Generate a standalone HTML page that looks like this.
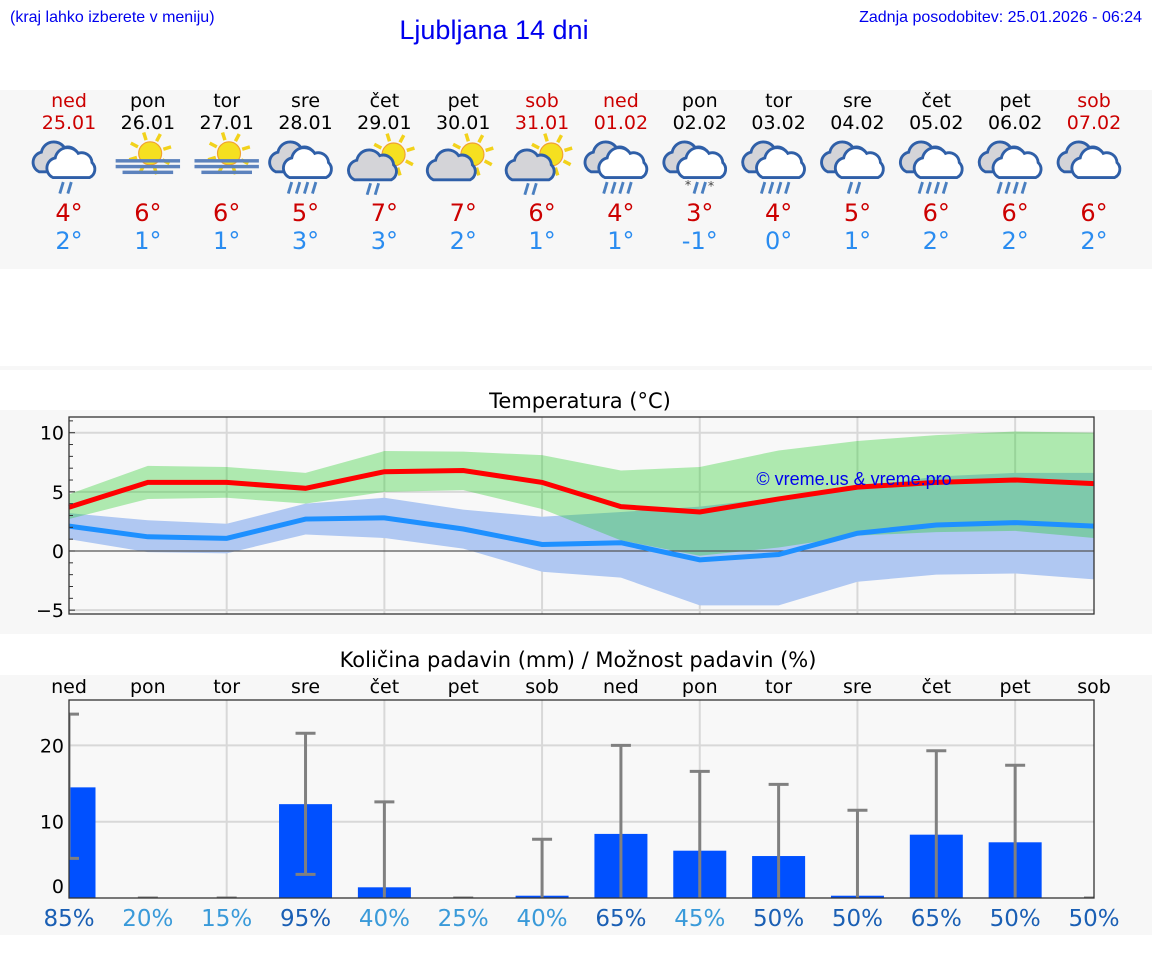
<!DOCTYPE html>
<html><head><meta charset="utf-8">
<style>
body{margin:0;width:1152px;height:975px;background:#fff;overflow:hidden;font-family:"DejaVu Sans","Liberation Sans",sans-serif;}
svg{position:absolute;left:0;top:0}
</style></head>
<body>
<svg id="s" width="1152" height="975" xmlns="http://www.w3.org/2000/svg">
<text x="10" y="22" font-family="Liberation Sans, sans-serif" font-size="16" fill="#0000ee">(kraj lahko izberete v meniju)</text>
<text x="494" y="39" text-anchor="middle" font-family="Liberation Sans, sans-serif" font-size="27" fill="#0000ee">Ljubljana 14 dni</text>
<text x="1142" y="22" text-anchor="end" font-family="Liberation Sans, sans-serif" font-size="16" fill="#0000ee">Zadnja posodobitev: 25.01.2026 - 06:24</text>
<rect x="0" y="90" width="1152" height="179" fill="#f7f7f7"/>
<rect x="0" y="366" width="1152" height="4" fill="#f7f7f7"/>
<rect x="0" y="410" width="1152" height="224" fill="#f7f7f7"/>
<rect x="0" y="675" width="1152" height="260" fill="#f7f7f7"/>
<text x="580" y="408" text-anchor="middle" font-size="21" fill="#000">Temperatura (°C)</text>
<text x="578" y="667" text-anchor="middle" font-size="21" fill="#000">Količina padavin (mm) / Možnost padavin (%)</text>
<g id="daily"></g>
<g id="temp"></g>
<g id="prec"></g>
</svg>
<script>
const days=["ned","pon","tor","sre","čet","pet","sob","ned","pon","tor","sre","čet","pet","sob"];
const dates=["25.01","26.01","27.01","28.01","29.01","30.01","31.01","01.02","02.02","03.02","04.02","05.02","06.02","07.02"];
const icons=["rain","sunfog","sunfog","rain3","suncloudrain","suncloud","suncloudrain","rain3","snow","rain3","rain","rain3","rain3","cloud"];
const maxT=[4,6,6,5,7,7,6,4,3,4,5,6,6,6];
const minT=[2,1,1,3,3,2,1,1,-1,0,1,2,2,2];
const maxLine=[3.7,5.8,5.8,5.3,6.7,6.8,5.8,3.75,3.3,4.4,5.4,5.8,6.0,5.7];
const maxHi=[4.8,7.2,7.1,6.6,8.45,8.4,8.1,6.8,7.1,8.5,9.3,9.8,10.1,10.0];
const maxLo=[2.7,4.4,4.5,4.0,5.0,5.15,3.55,0.9,-0.4,0.3,1.3,1.6,1.7,1.1];
const minLine=[2.1,1.2,1.07,2.7,2.8,1.86,0.55,0.7,-0.75,-0.3,1.5,2.2,2.4,2.1];
const minHi=[3.2,2.6,2.3,4.0,4.5,3.5,2.9,3.3,3.75,4.5,5.4,6.3,6.6,6.6];
const minLo=[1.0,-0.1,-0.2,1.4,1.1,0.2,-1.75,-2.25,-4.6,-4.6,-2.6,-2.0,-1.9,-2.4];
const tempTicks=[10,5,0,-5];
const precip=[14.5,0,0,12.3,1.4,0,0.3,8.4,6.2,5.5,0.3,8.3,7.3,0];
const errHi=[24.1,0,0,21.6,12.6,0,7.7,20.0,16.6,14.9,11.5,19.3,17.4,0];
const errLo=[5.2,0,0,3.1,0,0,0,0,0,0,0,0,0,0];
const chance=[85,20,15,95,40,25,40,65,45,50,50,65,50,50];
const precTicks=[0,10,20];

const NS="http://www.w3.org/2000/svg";
function mk(p,t,a){const e=document.createElementNS(NS,t);for(const k in a)e.setAttribute(k,a[k]);p.appendChild(e);return e;}
const X0=69,DX=(1094-69)/13;
const xd=i=>X0+i*DX;
const ty=v=>551-11.83*v;
const py=v=>898-7.63*v;

const dg=document.getElementById('daily');
function cloud(g,cx,cy,fill){
  mk(g,'path',{d:`M${cx-18},${cy+8} a9,9 0 0 1 2,-17 a11,11 0 0 1 20,-4 a9,9 0 0 1 12,8 a8,8 0 0 1 -2,13 z`,fill:fill,stroke:'#2f5fa8','stroke-width':2.5});
}
function sun(g,cx,cy,r){
  for(let k=0;k<8;k++){const a=k*Math.PI/4-0.3;mk(g,'line',{x1:cx+Math.cos(a)*(r+2),y1:cy+Math.sin(a)*(r+2),x2:cx+Math.cos(a)*(r+9),y2:cy+Math.sin(a)*(r+9),stroke:'#f2d21b','stroke-width':3});}
  mk(g,'circle',{cx:cx,cy:cy,r:r,fill:'#f5e020',stroke:'#f0a030','stroke-width':1});
}
function drops(g,cx,cy,n){for(let k=0;k<n;k++){const x=cx-(n-1)*3.5+k*7;mk(g,'line',{x1:x+1.5,y1:cy,x2:x-1.5,y2:cy+10,stroke:'#4a7fc0','stroke-width':2.5});}}
for(let i=0;i<14;i++){
  const x=xd(i);const col=(days[i]==="ned"||days[i]==="sob")?"#cc0000":"#000";
  let t=mk(dg,'text',{x:x,y:107,'text-anchor':'middle','font-size':19,fill:col});t.textContent=days[i];
  
  
  t=mk(dg,'text',{x:x,y:129,'text-anchor':'middle','font-size':19,fill:col});t.textContent=dates[i];
  
  
  const g=mk(dg,'g',{transform:`translate(${x},166) scale(1.15) translate(${-x},-166)`});
  
  
  const ic=icons[i];
  if(ic==='sunfog'){sun(g,x+2,155,10);for(let k=0;k<3;k++)mk(g,'rect',{x:x-28+(k==2?6:0),y:160+k*5,width:k==2?44:56,height:3,fill:'#5c82bd'});}
  else if(ic.startsWith('sun')){sun(g,x+8,156,10);cloud(g,x-8,170,'#d4d4d8');if(ic==='suncloudrain')drops(g,x-10,181,2);}
  else{cloud(g,x-8,163,'#d4d4d8');cloud(g,x+4,168,'#fff');
    if(ic==='rain')drops(g,x-3,180,2);else if(ic==='rain3')drops(g,x-3,180,4);
    else if(ic==='snow'){drops(g,x,180,2);mk(g,'text',{x:x-13,y:186,'font-size':11,fill:'#444'}).textContent='*';mk(g,'text',{x:x+7,y:187,'font-size':11,fill:'#444'}).textContent='*';}}
  t=mk(dg,'text',{x:x,y:221,'text-anchor':'middle','font-size':24,fill:'#cc0000'});t.textContent=maxT[i]+'°';
  
  
  t=mk(dg,'text',{x:x,y:249,'text-anchor':'middle','font-size':24,fill:'#2a8cf0'});t.textContent=minT[i]+'°';
  
  
}

const tg=document.getElementById('temp');
mk(tg,'rect',{x:69,y:417,width:1025,height:197,fill:'#f8f8f8'});
tempTicks.forEach(v=>{if(v!==0)mk(tg,'line',{x1:69,x2:1094,y1:ty(v),y2:ty(v),stroke:'#d8d8d8','stroke-width':2});});
for(let i=2;i<14;i+=2)mk(tg,'line',{x1:xd(i),x2:xd(i),y1:417,y2:614,stroke:'#d8d8d8','stroke-width':2});
function band(hi,lo,fill,name){const pts=hi.map((v,i)=>xd(i)+','+ty(v)).concat(lo.map((v,i)=>xd(i)+','+ty(v)).reverse());
  const p=mk(tg,'polygon',{points:pts.join(' '),fill:fill});
  
  }
band(minHi,minLo,'rgb(176,200,242)','min-temp-band');
band(maxHi,maxLo,'rgba(23,203,26,0.33)','max-temp-band');
mk(tg,'line',{x1:69,x2:1094,y1:ty(0),y2:ty(0),stroke:'#555','stroke-width':1.3});
let pl=mk(tg,'polyline',{points:minLine.map((v,i)=>xd(i)+','+ty(v)).join(' '),fill:'none',stroke:'#1e90ff','stroke-width':5});


pl=mk(tg,'polyline',{points:maxLine.map((v,i)=>xd(i)+','+ty(v)).join(' '),fill:'none',stroke:'#ff0000','stroke-width':5});


let wm=mk(tg,'text',{x:854,y:485,'text-anchor':'middle','font-family':'Liberation Sans, sans-serif','font-size':18,fill:'#0000ee'});wm.textContent='© vreme.us & vreme.pro';


mk(tg,'rect',{x:69,y:417,width:1025,height:197,fill:'none',stroke:'#333','stroke-width':1.3});
for(let v=-5;v<=11;v++)mk(tg,'line',{x1:69,x2:v%5==0?75:73,y1:ty(v),y2:ty(v),stroke:'#333','stroke-width':1});
tempTicks.forEach(v=>{const t=mk(tg,'text',{x:64,y:ty(v)+7,'text-anchor':'end','font-size':19,fill:'#000'});t.textContent=v<0?'−'+(-v):v;
  
  });

const pg=document.getElementById('prec');
mk(pg,'rect',{x:69,y:700,width:1025,height:198,fill:'#f8f8f8'});
precTicks.forEach(v=>{if(v)mk(pg,'line',{x1:69,x2:1094,y1:py(v),y2:py(v),stroke:'#d8d8d8','stroke-width':2});});
for(let i=2;i<14;i+=2)mk(pg,'line',{x1:xd(i),x2:xd(i),y1:700,y2:898,stroke:'#d8d8d8','stroke-width':2});
mk(pg,'clipPath',{id:'pc'}).appendChild(document.createElementNS(NS,'rect')).setAttribute('x',69);
const cr=document.querySelector('#pc rect');cr.setAttribute('y',700);cr.setAttribute('width',1025);cr.setAttribute('height',198);
const bg=mk(pg,'g',{'clip-path':'url(#pc)'});
for(let i=0;i<14;i++){
  const x=xd(i);
  if(precip[i]>0){const b=mk(bg,'rect',{x:x-26.5,y:py(precip[i]),width:53,height:py(0)-py(precip[i]),fill:'#0050ff'});
    
    }
  const e=mk(bg,'g',{stroke:'#808080','stroke-width':3});
  
  
  mk(e,'line',{x1:x,x2:x,y1:py(errHi[i]),y2:py(errLo[i])});
  mk(e,'line',{x1:x-10,x2:x+10,y1:py(errHi[i]),y2:py(errHi[i])});
  if(errLo[i]>0)mk(e,'line',{x1:x-10,x2:x+10,y1:py(errLo[i]),y2:py(errLo[i])});
}
mk(pg,'rect',{x:69,y:700,width:1025,height:198,fill:'none',stroke:'#333','stroke-width':1.3});
precTicks.forEach(v=>{const t=mk(pg,'text',{x:64,y:(v===0?886:py(v))+7,'text-anchor':'end','font-size':19,fill:'#000'});t.textContent=v;
  
  });
for(let i=0;i<14;i++){
  let t=mk(pg,'text',{x:xd(i),y:693,'text-anchor':'middle','font-size':19,fill:'#000'});t.textContent=days[i];
  
  
  t=mk(pg,'text',{x:xd(i),y:926,'text-anchor':'middle','font-size':23,fill:chance[i]>=50?'#1a5fb4':'#3a9ad9'});t.textContent=chance[i]+'%';
  
  
}
</script>
</body></html>
